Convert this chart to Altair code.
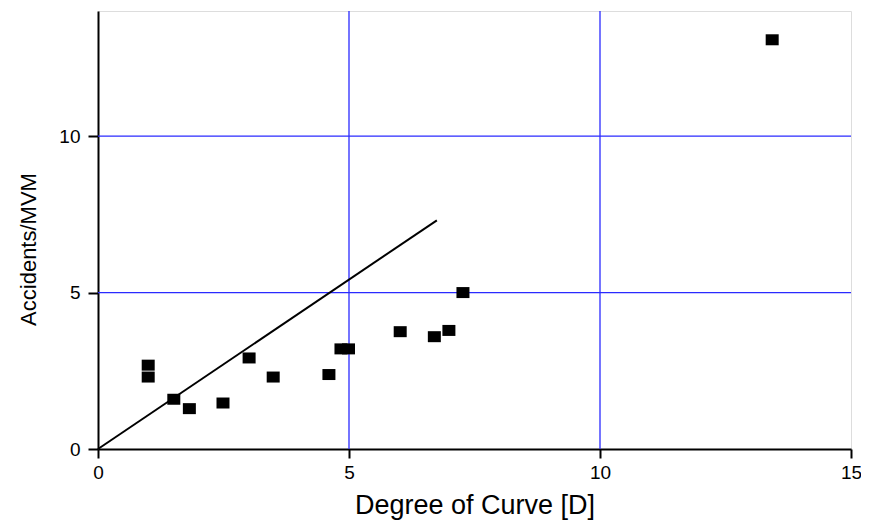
import altair as alt
import pandas as pd

# Data
degree = [1.0, 1.0, 1.51, 1.82, 2.49, 3.01, 3.49, 4.60, 4.84, 4.99, 6.02, 6.70, 6.99, 7.27, 13.43]
accidents = [2.68, 2.30, 1.59, 1.29, 1.47, 2.91, 2.30, 2.38, 3.20, 3.20, 3.75, 3.59, 3.79, 5.00, 13.08]

line_x = [0.0, 6.75]
line_y = [0.0, 7.31]

x_ticks = [0, 5, 10, 15]
y_ticks = [0, 5, 10]
x_grid = [5, 10]
y_grid = [5, 10]

FONT = "Liberation Sans"
GRID = "#2a2aff"

pts = pd.DataFrame({"x": degree, "y": accidents})
ln = pd.DataFrame({"x": line_x, "y": line_y})
xg = pd.DataFrame({"x": x_grid})
yg = pd.DataFrame({"y": y_grid})

xscale = alt.Scale(domain=[0, 15], nice=False, zero=False)
yscale = alt.Scale(domain=[0, 14], nice=False, zero=False)

xaxis = alt.Axis(
    values=x_ticks, grid=False, domainColor="black", domainWidth=2,
    tickColor="black", tickWidth=2, tickSize=9,
    labelFont=FONT, labelFontSize=19, labelColor="black", labelPadding=5,
    labelFlush=False, labelOverlap=False, labelBound=False,
    title="Degree of Curve [D]", titleFont=FONT, titleFontSize=27,
    titleFontWeight="normal", titleColor="black",
    titleBaseline="alphabetic", titleY=64,
)
yaxis = alt.Axis(
    values=y_ticks, grid=False, domainColor="black", domainWidth=2,
    tickColor="black", tickWidth=2, tickSize=10,
    labelFont=FONT, labelFontSize=19, labelColor="black", labelPadding=8,
    labelFlush=False, labelOverlap=False, labelBound=False,
    title="Accidents/MVM", titleFont=FONT, titleFontSize=22,
    titleFontWeight="normal", titleColor="black",
    titleAngle=270, titleBaseline="middle", titleAlign="center",
    titleX=-70, titleY=238,
)

vgrid = alt.Chart(xg).mark_rule(color=GRID, strokeWidth=1.3).encode(
    x=alt.X("x:Q", scale=xscale, axis=xaxis)
)
hgrid = alt.Chart(yg).mark_rule(color=GRID, strokeWidth=1.3).encode(
    y=alt.Y("y:Q", scale=yscale, axis=yaxis)
)
fit = alt.Chart(ln).mark_line(color="black", strokeWidth=2).encode(
    x=alt.X("x:Q", scale=xscale),
    y=alt.Y("y:Q", scale=yscale),
)
squares = alt.Chart(pts).mark_point(
    shape="M-1,-0.846L1,-0.846L1,0.846L-1,0.846Z",
    size=169, filled=True, color="black", opacity=1,
).encode(
    x=alt.X("x:Q", scale=xscale),
    y=alt.Y("y:Q", scale=yscale),
)

chart = alt.layer(vgrid, hgrid, fit, squares).properties(
    width=753, height=438,
    autosize=alt.AutoSizeParams(type="none"),
    padding={"left": 90, "top": 3, "right": 10, "bottom": 76},
).configure_view(stroke=None).configure(background="white")

chart.save("out.html", embed_options={"renderer": "svg", "actions": False})
